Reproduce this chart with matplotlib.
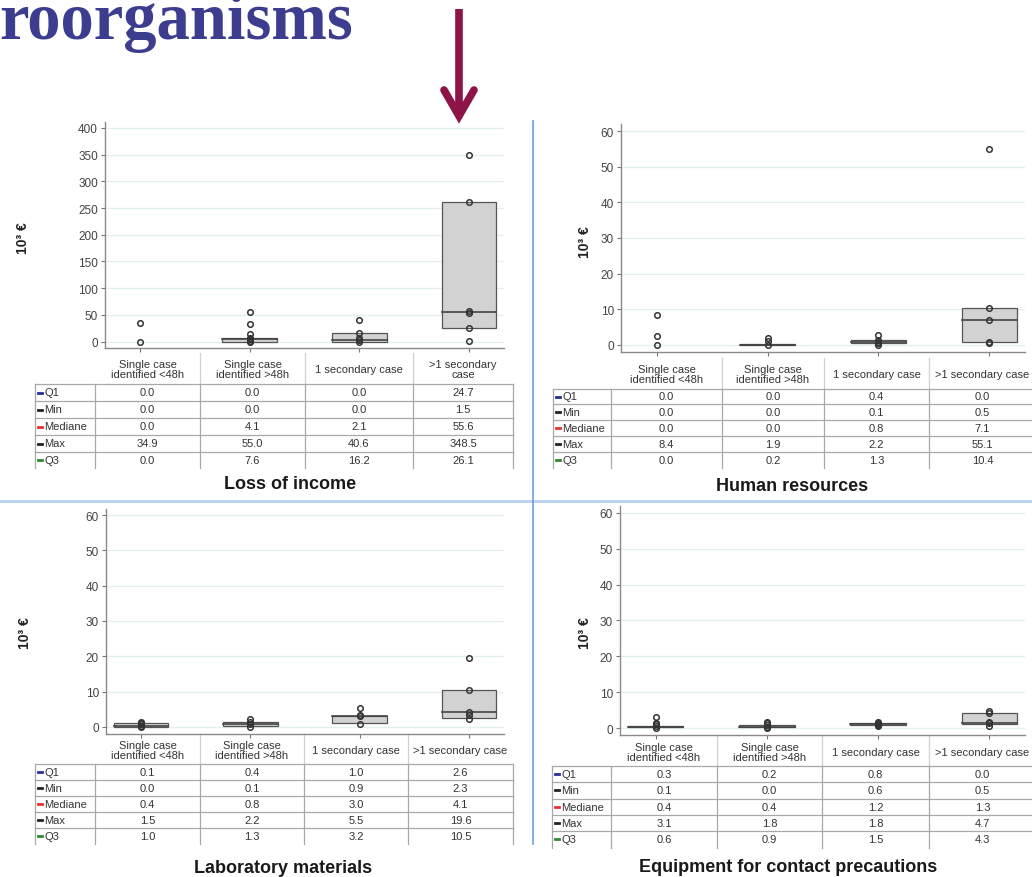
import matplotlib
matplotlib.use("Agg")
import matplotlib.pyplot as plt
from matplotlib.lines import Line2D
from matplotlib.patches import Rectangle

plt.rcParams['font.family'] = ['Liberation Sans', 'DejaVu Sans']

W, H = 1032, 878

# ---------------- data ----------------
categories = ["Single case\nidentified <48h", "Single case\nidentified >48h",
              "1 secondary case", ">1 secondary case"]
categories_loss = ["Single case\nidentified <48h", "Single case\nidentified >48h",
                   "1 secondary case", ">1 secondary\ncase"]
stat_labels = ["Q1", "Min", "Mediane", "Max", "Q3"]
stat_colors = ["#23308f", "#222222", "#e8312f", "#222222", "#2e8b2e"]

# table values (as printed)
loss_q1 = [0.0, 0.0, 0.0, 24.7]
loss_min = [0.0, 0.0, 0.0, 1.5]
loss_med = [0.0, 4.1, 2.1, 55.6]
loss_max = [34.9, 55.0, 40.6, 348.5]
loss_q3 = [0.0, 7.6, 16.2, 26.1]

hr_q1 = [0.0, 0.0, 0.4, 0.0]
hr_min = [0.0, 0.0, 0.1, 0.5]
hr_med = [0.0, 0.0, 0.8, 7.1]
hr_max = [8.4, 1.9, 2.2, 55.1]
hr_q3 = [0.0, 0.2, 1.3, 10.4]

lab_q1 = [0.1, 0.4, 1.0, 2.6]
lab_min = [0.0, 0.1, 0.9, 2.3]
lab_med = [0.4, 0.8, 3.0, 4.1]
lab_max = [1.5, 2.2, 5.5, 19.6]
lab_q3 = [1.0, 1.3, 3.2, 10.5]

eq_q1 = [0.3, 0.2, 0.8, 0.0]
eq_min = [0.1, 0.0, 0.6, 0.5]
eq_med = [0.4, 0.4, 1.2, 1.3]
eq_max = [3.1, 1.8, 1.8, 4.7]
eq_q3 = [0.6, 0.9, 1.5, 4.3]

# boxes as drawn in the chart
loss_box_lo = [0.0, 0.0, 0.0, 24.7]
loss_box_mid = [0.0, 4.1, 2.1, 55.6]
loss_box_hi = [0.0, 7.6, 16.2, 261.0]
hr_box_lo = [0.0, 0.0, 0.4, 0.9]
hr_box_mid = [0.0, 0.0, 0.8, 7.1]
hr_box_hi = [0.0, 0.2, 1.3, 10.4]
lab_box_lo = [0.1, 0.4, 1.0, 2.6]
lab_box_mid = [0.4, 0.8, 3.0, 4.1]
lab_box_hi = [1.0, 1.3, 3.2, 10.5]
eq_box_lo = [0.3, 0.2, 0.8, 1.1]
eq_box_mid = [0.4, 0.4, 1.2, 1.3]
eq_box_hi = [0.6, 0.9, 1.5, 4.3]

# individual observations (circles)
loss_pts = [[0.0, 34.9], [0.0, 2.0, 4.1, 7.6, 15.0, 33.0, 55.0],
            [0.0, 2.1, 6.0, 16.2, 40.6], [1.5, 24.7, 53.0, 57.0, 261.0, 348.5]]
hr_pts = [[0.0, 2.5, 8.4], [0.0, 1.1, 1.9], [0.1, 0.4, 0.8, 1.3, 2.8],
          [0.5, 0.9, 7.1, 10.4, 55.1]]
lab_pts = [[0.0, 0.4, 0.8, 1.2, 1.5], [0.1, 0.8, 1.3, 2.2], [0.9, 3.0, 3.5, 5.5],
           [2.3, 3.5, 4.1, 10.5, 19.6]]
eq_pts = [[0.1, 0.5, 1.0, 1.5, 3.1], [0.0, 0.4, 0.9, 1.3, 1.8],
          [0.6, 0.8, 1.2, 1.5, 1.8], [0.5, 1.3, 1.8, 4.3, 4.7]]

titles = ["Loss of income", "Human resources", "Laboratory materials",
          "Equipment for contact precautions"]
loss_yticks = [0, 50, 100, 150, 200, 250, 300, 350, 400]
small_yticks = [0, 10, 20, 30, 40, 50, 60]

# ---------------- figure ----------------
fig = plt.figure(figsize=(W / 100, H / 100), dpi=100)
ov = fig.add_axes([0, 0, 1, 1], zorder=0)
ov.set_xlim(0, W)
ov.set_ylim(H, 0)
ov.axis('off')

# header fragment & arrow
ov.text(-1, 39, "roorganisms", family=['Liberation Serif', 'DejaVu Serif'],
        fontweight='bold', fontsize=48, color='#3d3d90', va='baseline', ha='left')
acol = '#8c1447'
ov.add_line(Line2D([459, 459], [10, 116], color=acol, lw=5.5, solid_capstyle='butt'))
ov.add_line(Line2D([444, 459, 474], [91, 117, 91], color=acol, lw=5.5,
                   solid_capstyle='round', solid_joinstyle='miter'))

# separators
ov.add_line(Line2D([0, W], [502, 502], color='#bcd3ef', lw=2.2))
ov.add_line(Line2D([533, 533], [122, 845], color='#6f9edb', lw=1.2))


def px_axes(x0, x1, y0, y1):
    return fig.add_axes([x0 / W, 1 - y1 / H, (x1 - x0) / W, (y1 - y0) / H], zorder=2)


def draw_panel(ax, lo, mid, hi, pts, ylim, yticks):
    ax.set_facecolor('none')
    pos = [1, 2, 3, 4]
    for p, a, m, b in zip(pos, lo, mid, hi):
        if b - a <= 0:
            continue
        ax.add_patch(Rectangle((p - 0.25, a), 0.5, b - a, facecolor='#d2d2d2',
                               edgecolor='#555555', lw=0.9, zorder=2))
        ax.plot([p - 0.25, p + 0.25], [m, m], color='#444444', lw=1.2, zorder=3)
    for p, vals in zip(pos, pts):
        ax.plot([p] * len(vals), vals, 'o', ms=4.0, mfc='none', mec='#333333',
                mew=1.1, zorder=4, clip_on=False)
    ax.set_xlim(0.68, 4.32)
    ax.set_ylim(*ylim)
    ax.set_yticks(yticks)
    ax.set_xticks(pos)
    ax.set_xticklabels([])
    ax.yaxis.grid(True, color='#e3eff1', lw=1.0)
    ax.set_axisbelow(True)
    for s in ['top', 'right']:
        ax.spines[s].set_visible(False)
    for s in ['left', 'bottom']:
        ax.spines[s].set_color('#8a8a8a')
        ax.spines[s].set_linewidth(1.0)
    ax.tick_params(axis='y', length=3, width=0.8, color='#777777', labelsize=8.5,
                   labelcolor='#444444', pad=2)
    ax.tick_params(axis='x', length=3, width=0.8, color='#777777')


def draw_table(xb, header_y, row_lines, headers, values):
    # header dividers
    for x in xb[2:5]:
        ov.add_line(Line2D([x, x], [header_y - 16, row_lines[0]], color='#d0d0d0', lw=0.9))
    for i, h in enumerate(headers):
        cx = (xb[i + 1] + xb[i + 2]) / 2
        ov.text(cx, header_y, h, ha='center', va='center', fontsize=8,
                color='#333333', linespacing=1.05)
    # grid
    for y in row_lines[:-1]:
        ov.add_line(Line2D([xb[0], xb[-1]], [y, y], color='#a8a8a8', lw=0.9))
    for x in xb:
        ov.add_line(Line2D([x, x], [row_lines[0], row_lines[-1]], color='#a8a8a8', lw=0.9))
    for r, (lab, col, vals) in enumerate(zip(stat_labels, stat_colors, values)):
        cy = (row_lines[r] + row_lines[r + 1]) / 2
        ov.add_line(Line2D([xb[0] + 2.5, xb[0] + 7], [cy, cy], color=col, lw=2.0))
        ov.text(xb[0] + 9.5, cy, lab, ha='left', va='center', fontsize=8, color='#333333')
        for i, v in enumerate(vals):
            cx = (xb[i + 1] + xb[i + 2]) / 2
            ov.text(cx, cy, f"{v:.1f}", ha='center', va='center', fontsize=8,
                    color='#333333')


# Panel 1: Loss of income
ax1 = px_axes(105, 504, 123, 349)
draw_panel(ax1, loss_box_lo, loss_box_mid, loss_box_hi, loss_pts, (-12, 411), loss_yticks)
draw_table([35, 95, 200, 305, 413, 513], 370, [385, 402, 419, 436, 453, 469],
           categories_loss, [loss_q1, loss_min, loss_med, loss_max, loss_q3])

# Panel 2: Human resources
ax2 = px_axes(621, 1025, 125, 353)
draw_panel(ax2, hr_box_lo, hr_box_mid, hr_box_hi, hr_pts, (-2, 62), small_yticks)
draw_table([553, 611, 722, 824, 929, 1036], 375, [390, 405, 421, 437, 453, 469],
           categories, [hr_q1, hr_min, hr_med, hr_max, hr_q3])

# Panel 3: Laboratory materials
ax3 = px_axes(106, 504, 510, 735)
draw_panel(ax3, lab_box_lo, lab_box_mid, lab_box_hi, lab_pts, (-2, 61.7), small_yticks)
draw_table([35, 95, 200, 304, 408, 513], 751, [765, 781, 797, 813, 829, 845],
           categories, [lab_q1, lab_min, lab_med, lab_max, lab_q3])

# Panel 4: Equipment for contact precautions
ax4 = px_axes(620, 1025, 507, 736)
draw_panel(ax4, eq_box_lo, eq_box_mid, eq_box_hi, eq_pts, (-1.95, 61.9), small_yticks)
draw_table([552, 611, 717, 822, 929, 1036], 753, [767, 783, 800, 816, 832, 849],
           categories, [eq_q1, eq_min, eq_med, eq_max, eq_q3])

# y labels & titles
for (x, y) in [(23, 238), (585, 242), (25, 633), (585, 633)]:
    ov.text(x, y, "10³ €", rotation=90, ha='center', va='center', fontsize=10,
            fontweight='bold', color='#222222')
for t, (x, y) in zip(titles, [(290, 485), (792, 487), (283, 869), (788, 868)]):
    ov.text(x, y, t, ha='center', va='center', fontsize=13, fontweight='bold',
            color='#1a1a1a')

fig.savefig("out.png", dpi=100)
